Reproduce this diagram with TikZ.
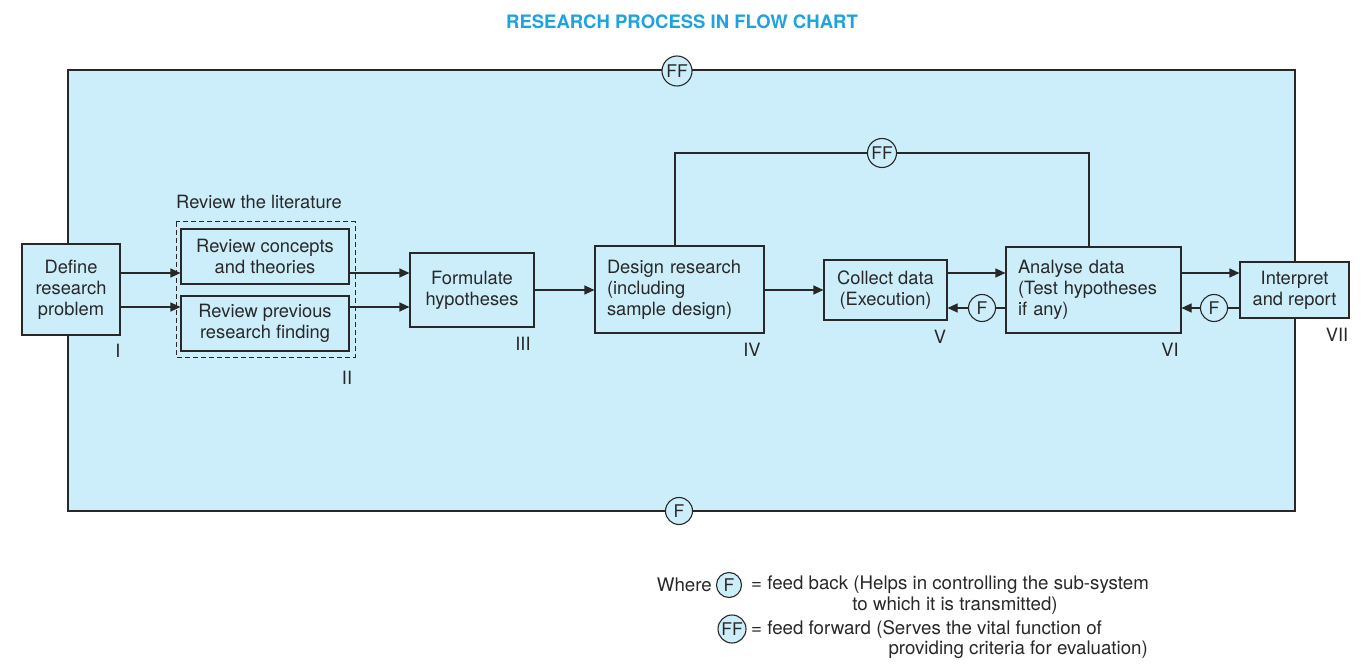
\documentclass[tikz,border=0pt]{standalone}
\usepackage{fontspec}
\setmainfont{TeX Gyre Heros}
\usetikzlibrary{arrows.meta}
\definecolor{bg}{RGB}{204,238,250}
\definecolor{ttl}{RGB}{30,163,224}
\definecolor{ln}{RGB}{40,40,40}
\tikzset{
  box/.style={draw=ln, line width=1.1pt, fill=bg, rectangle, inner sep=0pt, align=center, font=\fontsize{18.3}{21}\selectfont, text=ln},
  arr/.style={draw=ln, line width=1.1pt, -{Triangle[length=10pt,width=9pt]}},
  ln/.style={draw=ln, line width=1.1pt},
  fb/.style={draw=ln, line width=1.1pt, fill=bg, circle, inner sep=0pt, minimum size=#1, font=\fontsize{17.5}{20}\selectfont, text=ln},
  lab/.style={font=\fontsize{18.3}{21}\selectfont, text=ln, inner sep=0pt},
  leg/.style={font=\fontsize{18.7}{21}\selectfont, text=ln, inner sep=0pt},
}
\begin{document}
\begin{tikzpicture}[x=1pt,y=-1pt]
\useasboundingbox (0,0) rectangle (1368,668);
\node[font=\bfseries\fontsize{18.5}{20}\selectfont, text=ttl] (title) at (682,22) {RESEARCH PROCESS IN FLOW CHART};
\draw[ln, fill=bg] (68,70) rectangle (1295,511);
\node[fb=30pt] (ffa) at (677,71) {FF};
\node[fb=27pt] (fba) at (679,511) {F};

\coordinate (ya) at (0,273);
\coordinate (yb) at (0,307);
\coordinate (ym) at (0,290);
\coordinate (xa) at (675,0);
\coordinate (xb) at (1089,0);

% boxes
\node[box, minimum width=98pt, minimum height=91pt] (def) at (71,289.5) {Define\\research\\problem};
\draw[ln, dashed, line width=1pt, dash pattern=on 5pt off 3pt] (176,222) rectangle (355,357);
\node[lab] (rl) at (259,202) {Review the literature};
\node[box, minimum width=168pt, minimum height=55pt] (c1) at (265,256.5) {Review concepts\\and theories};
\node[box, minimum width=168pt, minimum height=55pt] (c2) at (265,323.5) {Review previous\\research finding};
\node[box, minimum width=124pt, minimum height=74pt] (fh) at (472,290) {Formulate\\hypotheses};
\node[box, minimum width=169pt, minimum height=87pt, text width=145pt, align=left] (dr) at (679.5,289.5) {Design research\\(including\\sample design)};
\node[box, minimum width=123pt, minimum height=60pt] (cd) at (885.5,290) {Collect data\\(Execution)};
\node[box, minimum width=175pt, minimum height=86pt, text width=151pt, align=left] (ad) at (1093.5,290) {Analyse data\\(Test hypotheses\\if any)};
\node[box, minimum width=109pt, minimum height=56pt] (ir) at (1294.5,290) {Interpret\\and report};

% numerals
\node[lab] (n1) at (118,351) {I};
\node[lab] (n2) at (347,378) {II};
\node[lab] (n3) at (523,344) {III};
\node[lab] (n4) at (752,350) {IV};
\node[lab] (n5) at (940,337) {V};
\node[lab] (n6) at (1170,350) {VI};
\node[lab] (n7) at (1337,335) {VII};

% connectors
\draw[arr] (def.east|-ya) -- (c1.west|-ya);
\draw[arr] (def.east|-yb) -- (c2.west|-yb);
\draw[arr] (c1.east|-ya) -- (fh.west|-ya);
\draw[arr] (c2.east|-yb) -- (fh.west|-yb);
\draw[arr] (fh.east|-ym) -- (dr.west|-ym);
\draw[arr] (dr.east|-ym) -- (cd.west|-ym);
\draw[arr] (cd.east|-ya) -- (ad.west|-ya);
\draw[arr] (ad.east|-ya) -- (ir.west|-ya);

\node[fb=27pt] (f1) at (982,308) {F};
\node[fb=27pt] (f2) at (1214,308) {F};
\draw[ln] (ad.west|-f1) -- (f1.east);
\draw[arr] (f1.west) -- (cd.east|-f1);
\draw[ln] (ir.west|-f2) -- (f2.east);
\draw[arr] (f2.west) -- (ad.east|-f2);

\node[fb=29pt] (ffb) at (882,153) {FF};
\draw[ln] (dr.north-|xa) |- (ffb.west);
\draw[ln] (ffb.east) -| (ad.north-|xb);

% legend
\node[leg, anchor=east] (wh) at (712,585) {Where};
\node[fb=25pt] (lf) at (729,585) {F};
\node[leg, anchor=west] (lt1) at (751,585) {= feed back (Helps in controlling the sub-system};
\node[leg] (lt2) at (955,606) {to which it is transmitted)};
\node[fb=28pt] (lff) at (732,629) {FF};
\node[leg, anchor=west] (lt3) at (751,629) {= feed forward (Serves the vital function of};
\node[leg, anchor=east] (lt4) at (1148,650) {providing criteria for evaluation)};
\end{tikzpicture}
\end{document}
